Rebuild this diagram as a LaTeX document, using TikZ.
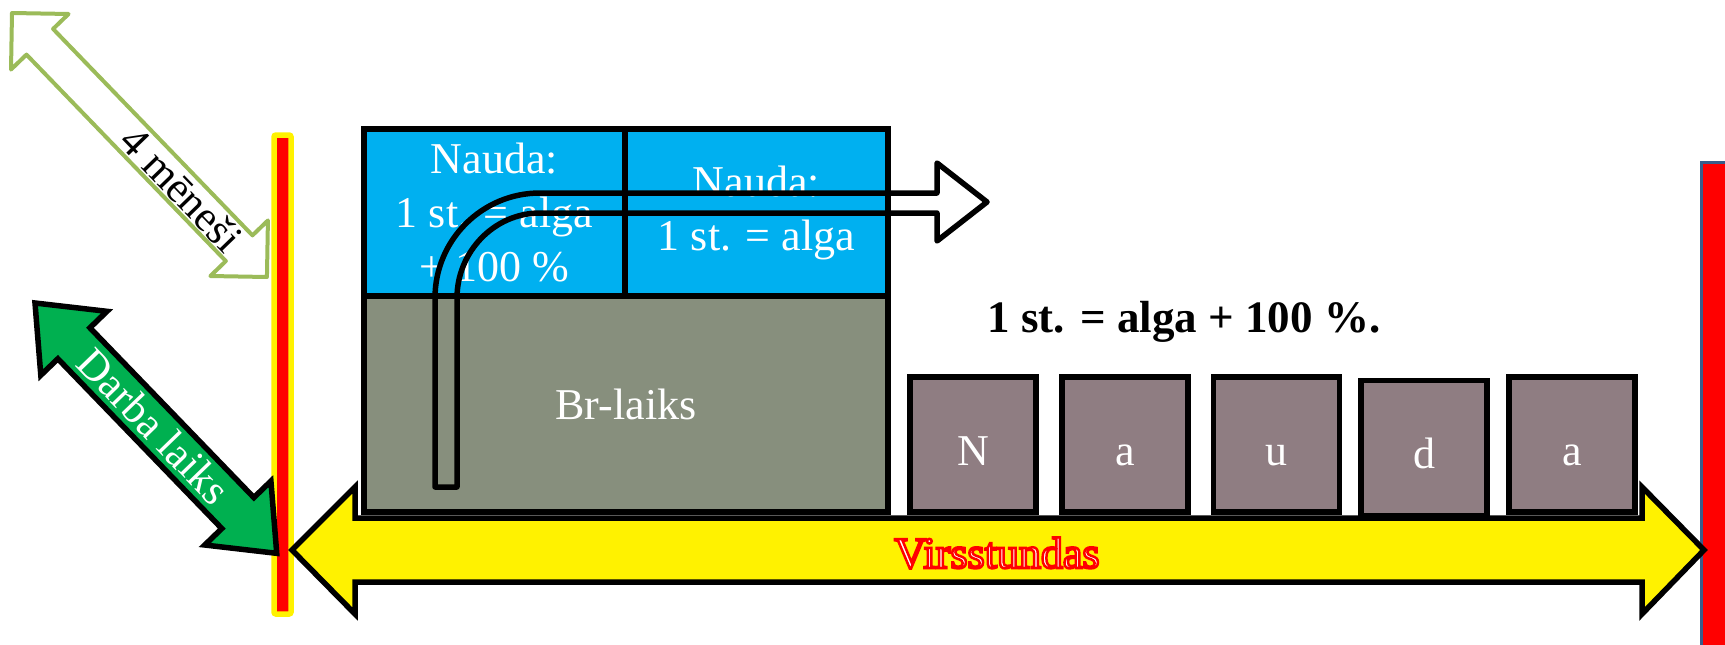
\documentclass[tikz,border=0pt]{standalone}
\usepackage{fontspec}
\setmainfont{Liberation Serif}
\definecolor{pblue}{HTML}{00B0F0}
\definecolor{pgrey}{HTML}{878F7D}
\definecolor{pmauve}{HTML}{8F7D82}
\definecolor{pgreen}{HTML}{00B050}
\definecolor{polive}{HTML}{9BBB59}
\definecolor{pnavy}{HTML}{385D8A}
\begin{document}
\begin{tikzpicture}[x=1pt,y=-1pt,
  txt/.style={font=\fontsize{44}{54}\selectfont, text=white, align=center},
  box/.style={draw=black, line width=5.5, inner sep=0, txt},
  bluebox/.style={box, fill=pblue, minimum height=167},
  letterbox/.style={box, fill=pmauve, minimum width=126, minimum height=135, text height=45, text depth=4},
  blackarrow/.style={draw=black, line width=5.5},
  olivearrow/.style={draw=polive, line width=4, line join=round, fill=white},
  rotlabel/.style={font=\fontsize{43}{50}\selectfont, rotate=-46, inner sep=0}]
\useasboundingbox (0,0) rectangle (1725,645);

% vertical bars
\node[draw=yellow, fill=red, line width=5.5, rounded corners=2, inner sep=0,
      minimum width=17, minimum height=479] (barL) at (282.5,374.5) {};
\node[draw=pnavy, fill=red, line width=3, inner sep=0,
      minimum width=44, minimum height=498] (barR) at (1723,411) {};

% boxes
\node[bluebox, minimum width=261] (nauda1) at (494.5,212.5) {Nauda:\\1 st. = alga\\+ 100 \%};
\node[bluebox, minimum width=263] (nauda2) at (756.5,212.5) {Nauda:\\1 st. = alga};
\node[box, fill=pgrey, minimum width=524, minimum height=216] (brl) at (626,404) {Br-laiks};

% bent arrow (outline only)
\draw[blackarrow, line join=round] (435,487) -- (435,298)
  .. controls (435,240) and (482,193) .. (540,193)
  -- (937,193) -- (937,163) -- (987,202) -- (937,241) -- (937,213) -- (540,213)
  .. controls (494,213) and (457,252) .. (457,298)
  -- (457,487) -- cycle;

% letter boxes
\node[letterbox] (b1) at (973,444.5) {N};
\node[letterbox] (b2) at (1125,444.5) {a};
\node[letterbox] (b3) at (1276.5,444.5) {u};
\node[letterbox] (b4) at (1424,448) {d};
\node[letterbox] (b5) at (1572,444.5) {a};

% bold caption
\node[font=\bfseries\fontsize{45}{54}\selectfont, anchor=base, inner sep=0] (cap) at (1184,332) {1 st. = alga + 100 \%.};

% yellow double arrow
\draw[blackarrow, fill=yellow] (292,550) -- (355,487) -- (355,518) -- (1642,518) -- (1642,487)
  -- (1704,550) -- (1642,614) -- (1642,582) -- (355,582) -- (355,614) -- cycle;
\node[font=\fontsize{44}{53}\selectfont, anchor=base, inner sep=0] (virs) at (997,568)
  {\color{white}\special{pdf:literal 2 Tr 2.5 w 1 0 0 RG}Virsstundas\special{pdf:literal 0 Tr}};

% olive double arrow "4 meneši"
\begin{scope}[shift={(12,13)}, rotate=-46]
  \draw[olivearrow] (0,0) -- (40,40) -- (40,18.5) -- (327,18.5) -- (327,40) -- (367,0)
    -- (327,-40) -- (327,-18.5) -- (40,-18.5) -- (40,-40) -- cycle;
\end{scope}
\node[rotlabel, text=black] (men) at (182,189) {4 mēneši};

% green double arrow "Darba laiks"
\begin{scope}[shift={(35,303)}, rotate=-46]
  \draw[blackarrow, fill=pgreen] (0,0) -- (56,46) -- (56,22.3) -- (292,22.3) -- (292,46) -- (348,0)
    -- (292,-46) -- (292,-22.3) -- (56,-22.3) -- (56,-46) -- cycle;
\end{scope}
\node[rotlabel, text=white] (darba) at (154,426) {Darba laiks};
\end{tikzpicture}
\end{document}
